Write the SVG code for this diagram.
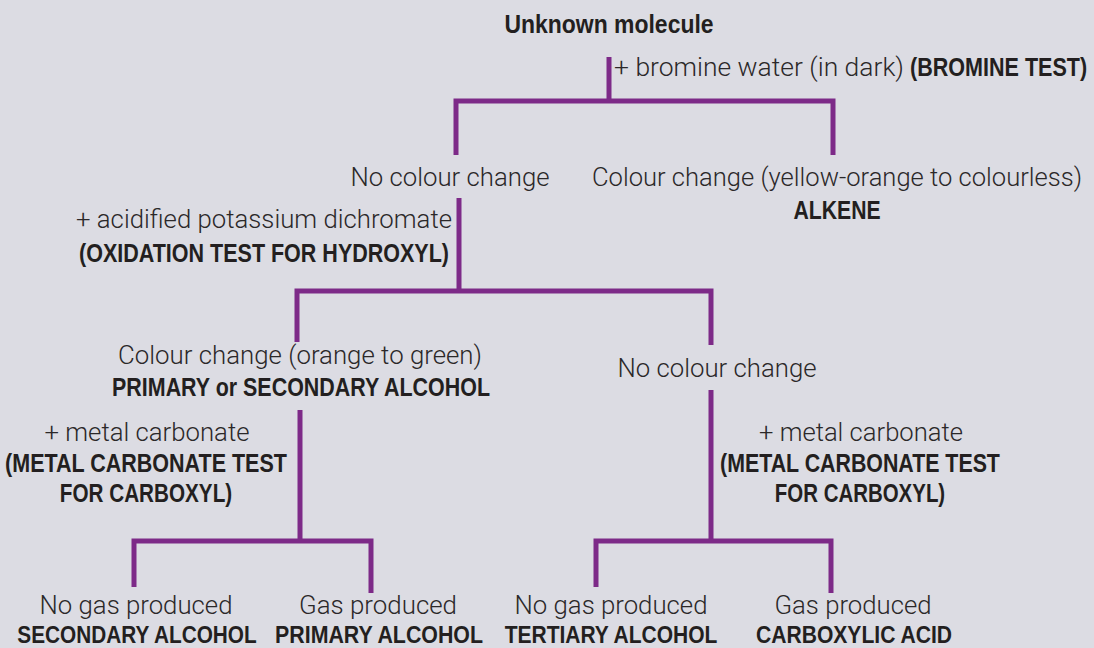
<svg xmlns="http://www.w3.org/2000/svg" width="1094" height="648" viewBox="0 0 1094 648">
  <style>
    .bg { fill: #dcdce3; }
    .wire { fill: none; stroke: #7d2a88; stroke-width: 5; stroke-linejoin: miter; stroke-linecap: butt; }
    .reg { font-family: Roboto, "Liberation Sans", Arial, sans-serif; font-weight: 300; font-size: 25px; fill: #2b2829; }
    .bold { font-family: "Liberation Sans", Arial, sans-serif; font-size: 26px; font-weight: bold; fill: #231f20; }
    .leaf { font-size: 24px; }
    .mid { text-anchor: middle; }
    .end { text-anchor: end; }
  </style>
  <rect class="bg" x="0" y="0" width="1094" height="648"/>

  <!-- connectors: trunk lines and branching brackets -->
  <g id="connectors">
    <path class="wire" d="M609,57 V101"/>
    <path class="wire" d="M456,155 V101 H833 V155"/>
    <path class="wire" d="M459,198 V291"/>
    <path class="wire" d="M297,342 V291 H711 V345"/>
    <path class="wire" d="M300,410 V541"/>
    <path class="wire" d="M134,587 V541 H371 V593"/>
    <path class="wire" d="M711,390 V541"/>
    <path class="wire" d="M596,587 V541 H831 V593"/>
  </g>

  <!-- bold labels are horizontally compressed to give a condensed face -->
  <g id="start">
    <text class="bold mid" font-size="25" transform="translate(609,33) scale(0.917,1)" textLength="228" lengthAdjust="spacingAndGlyphs">Unknown molecule</text>
  </g>

  <g id="bromine-test">
    <text class="reg" x="614" y="76" textLength="290" lengthAdjust="spacingAndGlyphs">+ bromine water (in dark)</text>
    <text class="bold" transform="translate(910,76) scale(0.828,1)" textLength="214" lengthAdjust="spacingAndGlyphs">(BROMINE TEST)</text>
  </g>

  <g id="no-colour-change-1">
    <text class="reg mid" x="450" y="186" textLength="199" lengthAdjust="spacingAndGlyphs">No colour change</text>
  </g>

  <g id="alkene">
    <text class="reg mid" x="837" y="186" textLength="490" lengthAdjust="spacingAndGlyphs">Colour change (yellow-orange to colourless)</text>
    <text class="bold mid" transform="translate(837,219) scale(0.814,1)" textLength="107" lengthAdjust="spacingAndGlyphs">ALKENE</text>
  </g>

  <g id="oxidation-test">
    <text class="reg end" x="452" y="228" textLength="376" lengthAdjust="spacingAndGlyphs">+ acidified potassium dichromate</text>
    <text class="bold end" transform="translate(449,262) scale(0.824,1)" textLength="449" lengthAdjust="spacingAndGlyphs">(OXIDATION TEST FOR HYDROXYL)</text>
  </g>

  <g id="primary-or-secondary">
    <text class="reg mid" x="300" y="364" textLength="364" lengthAdjust="spacingAndGlyphs">Colour change (orange to green)</text>
    <text class="bold mid" transform="translate(301,396) scale(0.818,1)" textLength="462" lengthAdjust="spacingAndGlyphs">PRIMARY or SECONDARY ALCOHOL</text>
  </g>

  <g id="no-colour-change-2">
    <text class="reg mid" x="717" y="377" textLength="199" lengthAdjust="spacingAndGlyphs">No colour change</text>
  </g>

  <g id="carbonate-test-left">
    <text class="reg mid" x="147" y="441" textLength="205" lengthAdjust="spacingAndGlyphs">+ metal carbonate</text>
    <text class="bold mid" transform="translate(146,472) scale(0.817,1)" textLength="345" lengthAdjust="spacingAndGlyphs">(METAL CARBONATE TEST</text>
    <text class="bold mid" transform="translate(146,502) scale(0.794,1)" textLength="217" lengthAdjust="spacingAndGlyphs">FOR CARBOXYL)</text>
  </g>

  <g id="carbonate-test-right">
    <text class="reg mid" x="861" y="441" textLength="204" lengthAdjust="spacingAndGlyphs">+ metal carbonate</text>
    <text class="bold mid" transform="translate(860,472) scale(0.811,1)" textLength="345" lengthAdjust="spacingAndGlyphs">(METAL CARBONATE TEST</text>
    <text class="bold mid" transform="translate(860,502) scale(0.785,1)" textLength="217" lengthAdjust="spacingAndGlyphs">FOR CARBOXYL)</text>
  </g>

  <g id="secondary-alcohol">
    <text class="reg mid" x="136" y="614" textLength="193" lengthAdjust="spacingAndGlyphs">No gas produced</text>
    <text class="bold leaf mid" transform="translate(137,643) scale(0.858,1)" textLength="279" lengthAdjust="spacingAndGlyphs">SECONDARY ALCOHOL</text>
  </g>

  <g id="primary-alcohol">
    <text class="reg mid" x="378" y="614" textLength="158" lengthAdjust="spacingAndGlyphs">Gas produced</text>
    <text class="bold leaf mid" transform="translate(379,643) scale(0.881,1)" textLength="236" lengthAdjust="spacingAndGlyphs">PRIMARY ALCOHOL</text>
  </g>

  <g id="tertiary-alcohol">
    <text class="reg mid" x="611" y="614" textLength="193" lengthAdjust="spacingAndGlyphs">No gas produced</text>
    <text class="bold leaf mid" transform="translate(611,643) scale(0.868,1)" textLength="245" lengthAdjust="spacingAndGlyphs">TERTIARY ALCOHOL</text>
  </g>

  <g id="carboxylic-acid">
    <text class="reg mid" x="853" y="614" textLength="157" lengthAdjust="spacingAndGlyphs">Gas produced</text>
    <text class="bold leaf mid" transform="translate(854,643) scale(0.875,1)" textLength="224" lengthAdjust="spacingAndGlyphs">CARBOXYLIC ACID</text>
  </g>
</svg>
